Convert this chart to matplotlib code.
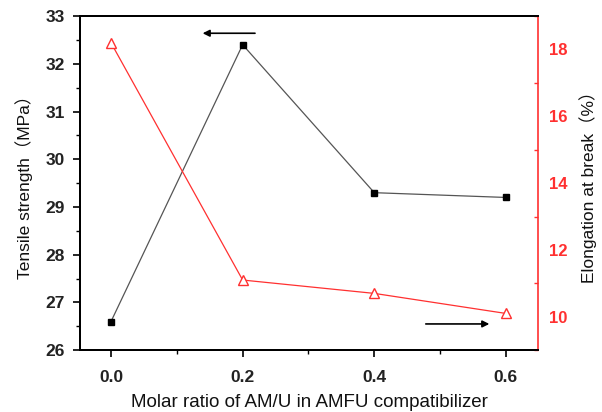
import matplotlib
matplotlib.use("Agg")
import matplotlib.pyplot as plt
from matplotlib.ticker import MultipleLocator

plt.rcParams['font.family'] = ['Liberation Sans', 'Noto Sans CJK SC', 'DejaVu Sans']

ratio = [0.0, 0.2, 0.4, 0.6]
tensile = [26.6, 32.4, 29.3, 29.2]
elongation = [18.2, 11.1, 10.7, 10.1]
x_ticks = [0.0, 0.2, 0.4, 0.6]
left_ticks = [26, 27, 28, 29, 30, 31, 32, 33]
right_ticks = [10, 12, 14, 16, 18]

fig = plt.figure(figsize=(6.02, 4.12), dpi=100)
ax = fig.add_axes([0.133, 0.150, 0.761, 0.811])
ax2 = ax.twinx()

ax.plot(ratio, tensile, color='#555555', lw=0.9, marker='s', ms=5,
        markerfacecolor='black', markeredgecolor='black', zorder=3)
ax2.plot(ratio, elongation, color='#ff3030', lw=0.9, marker='^', ms=7,
         markerfacecolor='white', markeredgecolor='#ff3030', zorder=3)

ax.set_xlim(-0.047, 0.649)
ax.set_ylim(26, 33)
ax2.set_ylim(9, 19)

ax.set_xticks(x_ticks)
ax.set_xticklabels([f"{v:.1f}" for v in x_ticks])
ax.xaxis.set_minor_locator(MultipleLocator(0.1))
ax.set_yticks(left_ticks)
ax.yaxis.set_minor_locator(MultipleLocator(0.5))
ax2.set_yticks(right_ticks)
ax2.yaxis.set_minor_locator(MultipleLocator(1))

for lab in ax.get_xticklabels() + ax.get_yticklabels():
    lab.set_fontweight('bold')
    lab.set_fontsize(12.5)
    lab.set_color('#222222')
for lab in ax2.get_yticklabels():
    lab.set_fontweight('bold')
    lab.set_fontsize(12)
    lab.set_color('#ff3030')

ax.tick_params(axis='x', which='major', direction='out', length=5, width=1.2, top=False, pad=9)
ax.tick_params(axis='y', which='major', direction='out', length=5, width=1.2, pad=6)
ax.tick_params(axis='both', which='minor', direction='out', length=3, width=1.0, top=False)
ax2.tick_params(axis='y', which='major', direction='in', length=0, width=1.0, colors='#ff3030', pad=8)
ax2.tick_params(axis='y', which='minor', direction='in', length=3, width=1.0, colors='#ff3030')

for s in ['left', 'bottom', 'top']:
    ax.spines[s].set_linewidth(1.4)
    ax2.spines[s].set_linewidth(1.4)
ax2.spines['right'].set_color('#ff3030')
ax2.spines['right'].set_linewidth(1.2)
ax.spines['right'].set_visible(False)

ax.set_xlabel('Molar ratio of AM/U in AMFU compatibilizer', fontsize=13.5, color='#111111', labelpad=7)
ax.set_ylabel('Tensile strength（MPa）', fontsize=12.5, color='#111111', labelpad=9)
ax2.set_ylabel('Elongation at break（%）', fontsize=12.5, color='#111111', labelpad=8)

ax.annotate('', xy=(0.135, 32.64), xytext=(0.223, 32.64),
            arrowprops=dict(arrowstyle='-|>', color='black', lw=1.2, mutation_scale=10))
ax.annotate('', xy=(0.579, 26.55), xytext=(0.474, 26.55),
            arrowprops=dict(arrowstyle='-|>', color='black', lw=1.2, mutation_scale=10))

fig.savefig('out.png', dpi=100)
